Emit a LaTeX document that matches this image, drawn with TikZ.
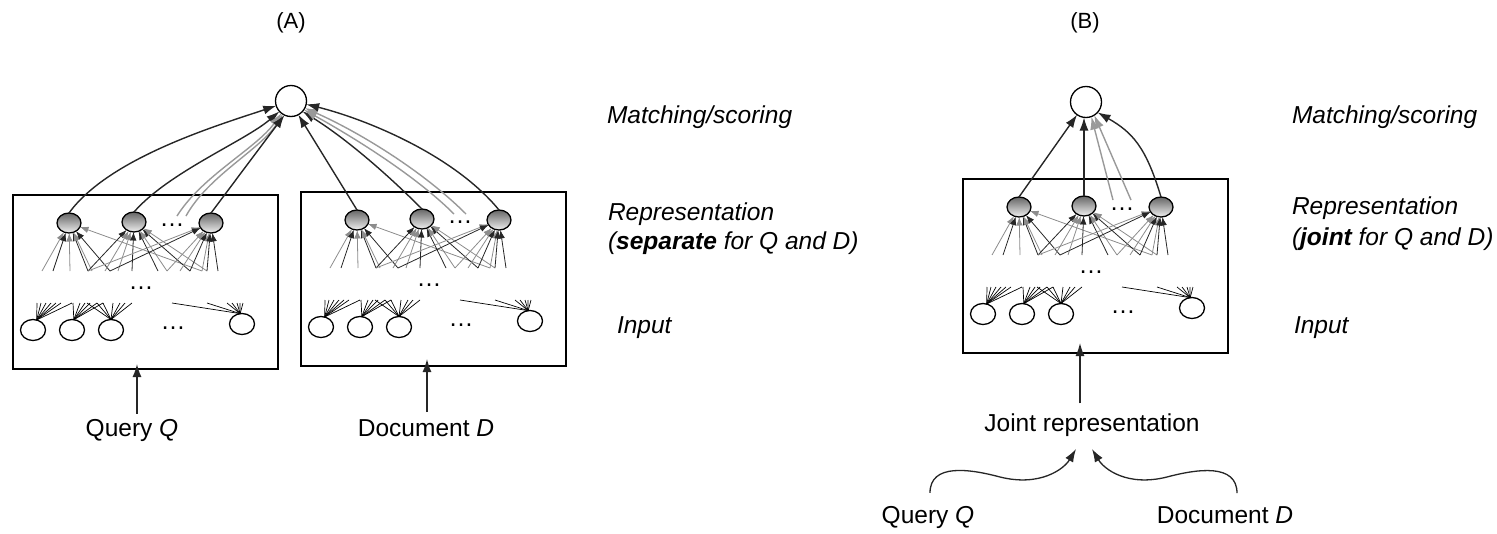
\documentclass[tikz,border=0pt]{standalone}
\usepackage{fontspec}
\setmainfont{Liberation Sans}
\usetikzlibrary{arrows.meta,shapes.geometric}
\newcommand\netbox[3]{%
\begin{scope}[shift={(#2,#3)}]
\node[boxn] (#1box) at (0,0) {};
\foreach \bx in {29,40,57,75,79,92,97,105,119,145,154,167,177,189,194,205}
  {\coordinate (#1b\bx) at (\bx,76);}
\foreach \tx in {24,28,33,38,43,48,59,60,67,72,77,84,90,74,100,107,112,119,159,194,214,219,224,227,230}
  {\coordinate (#1t\tx) at (\tx,108);}
\node[hid] (#1h1) at (56,28) {};
\node[hid] (#1h2) at (121,27) {};
\node[hid] (#1h3) at (198,28) {};
\node[dotsn] (#1hd) at (159,30) {…};
\node[dotsn] (#1md) at (128,93) {…};
\node[dotsn] (#1id) at (160,133) {…};
\foreach \bx/\st in {29/fg,40/fk,57/fg,75/fk,79/fg,97/fk,189/fg}
  {\draw[fan,\st] (#1b\bx) -- (#1h1);}
\foreach \bx/\st in {75/fk,92/fg,105/fg,119/fk,145/fk,154/fg,177/fk,194/fg}
  {\draw[fan,\st] (#1b\bx) -- (#1h2);}
\foreach \bx/\st in {75/fg,97/fk,154/fg,167/fg,177/fk,189/fg,194/fk,205/fk}
  {\draw[fan,\st] (#1b\bx) -- (#1h3);}
\node[inp] (#1i1) at (20,135) {};
\node[inp] (#1i2) at (59,135) {};
\node[inp] (#1i3) at (98,135) {};
\node[inp] (#1i4) at (229,129) {};
\foreach \tx in {24,28,33,38,43,48,59} {\draw[fanin] (#1i1.70) -- (#1t\tx);}
\foreach \tx in {60,67,72,77,84,90} {\draw[fanin] (#1i2.80) -- (#1t\tx);}
\foreach \tx in {74,84,90,100,107,112,119} {\draw[fanin] (#1i3.north) -- (#1t\tx);}
\foreach \tx in {159,194,214,219,224,227,230} {\draw[fanin] (#1i4.100) -- (#1t\tx);}
\end{scope}}
\begin{document}
\begin{tikzpicture}[x=1pt,y=-1pt,
 every node/.style={inner sep=0pt, outer sep=0pt},
 lbl/.style={font=\fontsize{24.5}{25}\selectfont, anchor=base},
 ilbl/.style={font=\fontsize{24.5}{25}\selectfont\itshape, anchor=base west},
 boxn/.style={draw, line width=1.3pt, minimum width=265pt, minimum height=174pt, anchor=north west},
 hid/.style={ellipse, draw, line width=1.3pt, minimum width=24pt, minimum height=20pt, top color=black!60, bottom color=black!6},
 inp/.style={ellipse, draw, line width=1.3pt, minimum width=25pt, minimum height=21pt, fill=white},
 topc/.style={circle, draw, line width=1.3pt, minimum size=31pt, fill=white},
 dotsn/.style={font=\fontsize{25}{25}\selectfont},
 fan/.style={line width=0.8pt, -{Latex[length=8.5pt,width=6.5pt]}},
 fanin/.style={line width=0.7pt},
 fk/.style={draw=black!85},
 fg/.style={draw=black!45},
 big/.style={line width=1.4pt, draw=black!85, -{Latex[length=13pt,width=9pt]}},
 bigg/.style={line width=1.4pt, draw=black!40, -{Latex[length=13pt,width=9pt]}},
]
\useasboundingbox (0,0) rectangle (1497,533);
% ---------------- Panel A ----------------
\node[font=\fontsize{22}{22}\selectfont, anchor=base] (Alab) at (291,28) {(A)};
\netbox{L}{13}{195}
\netbox{R}{301}{192}
\node[topc] (At) at (291,101) {};
\coordinate (Lg1) at (177,216);
\coordinate (Lg2) at (186,216);
\coordinate (Rg1) at (454,214);
\coordinate (Rg2) at (466,214);
\draw[big] (Lh1.north) .. controls +(40,-55) and +(-60,20) .. (At.198);
\draw[big] (Lh2.north) .. controls +(35,-40) and +(-35,30) .. (At.222);
\draw[bigg] (Lg1) .. controls +(25,-40) and +(-25,35) .. (At.232);
\draw[bigg] (Lg2) .. controls +(22,-40) and +(-22,35) .. (At.238);
\draw[big] (Lh3.north) -- (At.245);
\draw[big] (Rh1.north) -- (At.298);
\draw[big] (Rh2.north) .. controls +(-40,-40) and +(40,25) .. (At.318);
\draw[bigg] (Rg1) .. controls +(-40,-40) and +(45,25) .. (At.326);
\draw[bigg] (Rg2) .. controls +(-45,-45) and +(50,22) .. (At.333);
\draw[big] (Rh3.north) .. controls +(-45,-55) and +(60,15) .. (At.348);
\node[lbl] (Q1) at (132,436) {Query \textit{Q}};
\node[lbl] (D1) at (426,436) {Document \textit{D}};
\draw[big] ([xshift=5pt,yshift=5pt]Q1.north) -- ([xshift=5pt,yshift=5pt]Q1.north |- Lbox.south);
\draw[big] ([xshift=1pt,yshift=7pt]D1.north) -- ([xshift=1pt,yshift=7pt]D1.north |- Rbox.south);
\node[ilbl] (m1) at (607,123) {Matching/scoring};
\node[ilbl] (r1a) at (608,220) {Representation};
\node[ilbl] (r1b) at (608,249) {(\textbf{separate} for Q and D)};
\node[ilbl] (in1) at (617,333) {Input};
% ---------------- Panel B ----------------
\node[font=\fontsize{22}{22}\selectfont, anchor=base] (Blab) at (1085,28) {(B)};
\netbox{B}{963}{179}
\node[topc] (Bt) at (1086,102) {};
\coordinate (Bg1) at (1113,200);
\coordinate (Bg2) at (1131,200);
\draw[big] (Bh1.north) -- (Bt.235);
\draw[big] (Bh2.north) -- (Bh2.north |- Bt.south);
\draw[bigg] (Bg1) -- (Bt.290);
\draw[bigg] (Bg2) -- (Bt.302);
\draw[big] (Bh3.north) .. controls +(-15,-50) and +(35,20) .. (Bt.318);
\node[ilbl] (m2) at (1292,123) {Matching/scoring};
\node[ilbl] (r2a) at (1292,214) {Representation};
\node[ilbl] (r2b) at (1292,245) {(\textbf{joint} for Q and D)};
\node[ilbl] (in2) at (1294,333) {Input};
\node[lbl] (J) at (1092,431) {Joint representation};
\draw[big] ([xshift=-12pt,yshift=10pt]J.north) -- ([xshift=-12pt,yshift=10pt]J.north |- Bbox.south);
\node[lbl] (Q2) at (928,523) {Query \textit{Q}};
\node[lbl] (D2) at (1225,523) {Document \textit{D}};
\coordinate (jl) at (1076,449);
\coordinate (jr) at (1092,449);
\draw[big, line width=1.3pt] ([xshift=2pt,yshift=13pt]Q2.north) .. controls +(0,-30) and +(-30,-8) .. (1000,477) .. controls +(40,10) and +(-12,20) .. (jl);
\draw[big, line width=1.3pt] ([xshift=12pt,yshift=13pt]D2.north) .. controls +(0,-30) and +(30,-8) .. (1167,477) .. controls +(-40,10) and +(12,20) .. (jr);
\end{tikzpicture}
\end{document}
